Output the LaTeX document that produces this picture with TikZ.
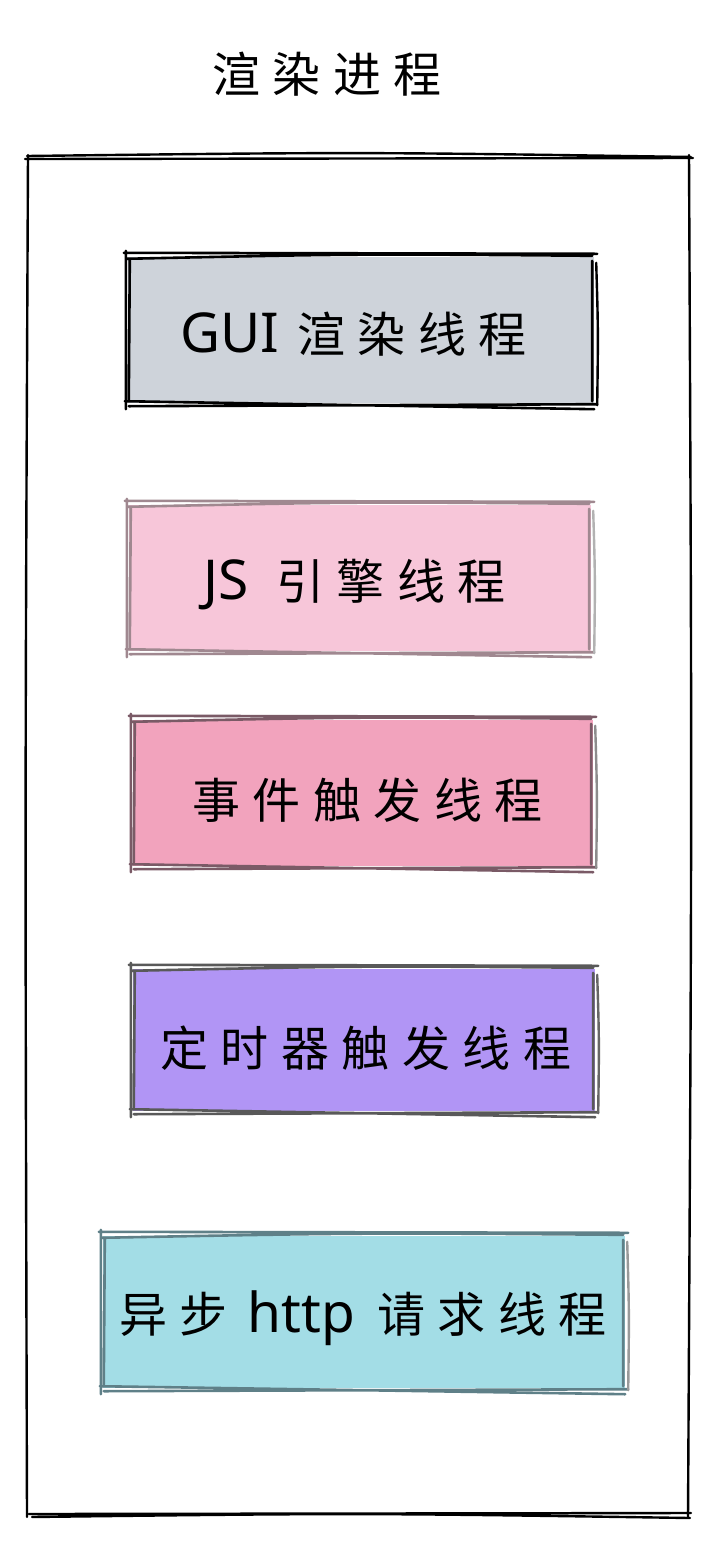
\documentclass[tikz,border=0pt]{standalone}
\usepackage{fontspec}
\setmainfont{Noto Sans}
\newfontfamily\cjk[LetterSpace=26]{Noto Sans CJK SC}
\newfontfamily\lat{Noto Sans}
\usetikzlibrary{calc}
\definecolor{guic}{HTML}{CED3DA}
\definecolor{jsc}{HTML}{F7C6D9}
\definecolor{evc}{HTML}{F2A3BD}
\definecolor{tmc}{HTML}{B195F5}
\definecolor{htc}{HTML}{A3DDE6}
\definecolor{jsl}{HTML}{A08890}
\definecolor{evl}{HTML}{7A5A66}
\definecolor{tml}{HTML}{5A4A7A}
\definecolor{htl}{HTML}{5F8088}
\newcommand\sketchbox[3]{%
  \draw[#2, line width=2.6pt, line cap=round]
    ([shift={(-4pt,4pt)}]#1.north west) -- ([shift={(3pt,3pt)}]#1.north east)
    ([shift={(-2pt,-2pt)}]#1.north west) .. controls ($(#1.north)+(0,3pt)$) .. ([shift={(-2pt,1pt)}]#1.north east)
    ([shift={(1pt,-3pt)}]#1.south west) -- ([shift={(3pt,-1pt)}]#1.south east)
    ([shift={(-3pt,2pt)}]#1.south west) .. controls ($(#1.south)+(0,-2pt)$) .. ([shift={(0pt,-6pt)}]#1.south east)
    ([shift={(-2pt,6pt)}]#1.north west) -- ([shift={(-2pt,-6pt)}]#1.south west)
    ([shift={(2pt,-2pt)}]#1.north west) -- ([shift={(1pt,4pt)}]#1.south west)
    ([shift={(-2pt,-4pt)}]#1.north east) -- ([shift={(-2pt,2pt)}]#1.south east);
  \draw[#3, line width=2.4pt, line cap=round]
    ([shift={(2pt,-6pt)}]#1.north east) .. controls ($(#1.east)+(4pt,0)$) .. ([shift={(3pt,-2pt)}]#1.south east);
}
\newcommand\zh[1]{{\cjk\fontsize{48}{54}\selectfont #1}}
\newcommand\en[1]{{\lat\fontsize{55}{60}\selectfont #1}}
\tikzset{
  box/.style={inner sep=0pt, draw=none},
  label/.style={inner sep=0pt, text=black, anchor=west},
}
\begin{document}
\begin{tikzpicture}[x=1pt,y=1pt]
\useasboundingbox (0,0) rectangle (722,-1548);
\fill[white] (0,0) rectangle (722,-1548);
% title
\node[label] (title) at (212,-74) {\zh{渲染进程}};
% outer frame
\coordinate (ftl) at (27,-157);
\coordinate (ftr) at (690,-157);
\coordinate (fbl) at (27,-1515);
\coordinate (fbr) at (690,-1515);
\draw[black, line width=2.4pt, line cap=round]
  ($(ftl)+(0,1)$) .. controls (360,-152) .. ($(ftr)+(1,0)$)
  ($(ftl)+(-2,-2)$) -- ($(ftr)+(3,-1)$)
  ($(ftr)+(-1,2)$) .. controls (692,-800) .. ($(fbr)+(-2,-3)$)
  ($(fbl)+(2,1)$) -- ($(fbr)+(1,2)$)
  ($(fbl)+(5,-2)$) .. controls (360,-1513) .. ($(fbr)+(0,-3)$)
  ($(ftl)+(1,2)$) .. controls (25,-800) .. ($(fbl)+(0,-2)$);
% boxes
\node[box, fill=guic, minimum width=466pt, minimum height=146pt] (gui) at (361,-330) {};
\sketchbox{gui}{black}{black}
\node[label] (guit) at (180,-334) {\en{GUI}\hspace{18pt}\zh{渲染线程}};

\node[box, fill=jsc, minimum width=462pt, minimum height=146pt] (js) at (360,-578) {};
\sketchbox{js}{jsl}{black!30}
\node[label] (jst) at (203,-584) {\en{JS}\hspace{28pt}\zh{引擎线程}};

\node[box, fill=evc, minimum width=460pt, minimum height=146pt] (ev) at (363,-793) {};
\sketchbox{ev}{evl}{black!45}
\node[label] (evt) at (192,-800) {\zh{事件触发线程}};

\node[box, fill=tmc, minimum width=462pt, minimum height=142pt] (tm) at (364,-1040) {};
\sketchbox{tm}{black!65}{black!60}
\node[label] (tmt) at (160,-1048) {\zh{定时器触发线程}};

\node[box, fill=htc, minimum width=522pt, minimum height=152pt] (ht) at (364,-1312) {};
\sketchbox{ht}{htl}{black!40}
\node[label] (htt) at (119,-1318) {\zh{异步}\hspace{20pt}\en{http}\hspace{22pt}\zh{请求线程}};
\end{tikzpicture}
\end{document}
